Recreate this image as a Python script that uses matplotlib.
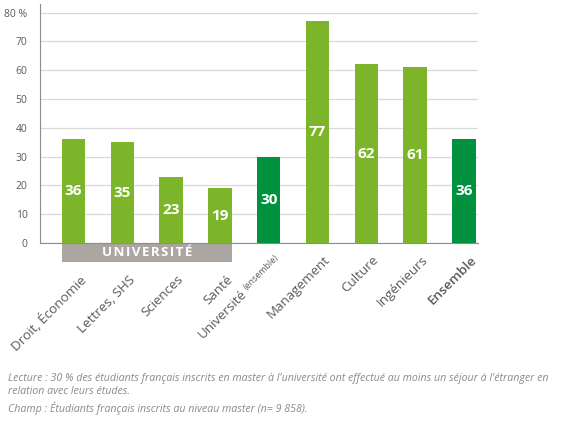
import numpy as np
import matplotlib
matplotlib.use("Agg")
import matplotlib.pyplot as plt
from matplotlib.patches import Rectangle

plt.rcParams['font.family'] = ['Open Sans', 'DejaVu Sans']

# données
categories = ["Droit, Économie", "Lettres, SHS", "Sciences", "Santé",
              "Université", "Management", "Culture", "Ingénieurs", "Ensemble"]
values = [36, 35, 23, 19, 30, 77, 62, 61, 36]
is_total = [False, False, False, False, True, False, False, False, True]
yticks = [0, 10, 20, 30, 40, 50, 60, 70, 80]
ytick_labels = ["0", "10", "20", "30", "40", "50", "60", "70", "80 %"]
n_univ = 4  # les 4 premières filières sont à l'université

light_green = "#7db52a"
dark_green = "#00923f"
grey_text = "#5a5a5a"

W, H = 561, 422
fig = plt.figure(figsize=(W / 100, H / 100), dpi=100)
ax = fig.add_axes([40 / W, 1 - 243 / H, 438 / W, 239 / H])

x = np.arange(len(categories))
colors = [dark_green if t else light_green for t in is_total]
ax.bar(x, values, width=0.48, color=colors, zorder=3)

# valeurs dans les barres
for xi, v in zip(x, values):
    ax.text(xi, v / 2, str(v), ha="center", va="center", color="white",
            fontsize=11, fontweight="bold", zorder=4)

ax.set_xlim(-0.686, 8.29)
ax.set_ylim(0, 83)
ax.set_yticks(yticks)
ax.set_yticklabels(ytick_labels)
ax.tick_params(axis="y", length=0, pad=9, labelsize=7.5, labelcolor=grey_text)
ax.set_xticks([])
ax.grid(axis="y", color="#d9d9d9", linewidth=0.9, zorder=0)
for s in ["top", "right"]:
    ax.spines[s].set_visible(False)
ax.spines["left"].set_color("#8c8c8c")
ax.spines["bottom"].set_color("#8c8c8c")

# bandeau UNIVERSITÉ
trans = ax.get_xaxis_transform()
box = Rectangle((-0.24, -0.08), n_univ - 1 + 0.48, 0.08, transform=trans,
                facecolor="#aba6a2", edgecolor="none", clip_on=False)
ax.add_patch(box)
ax.text((n_univ - 1) / 2, -0.04, "\u200a".join("UNIVERSITÉ"), transform=trans,
        ha="center", va="center", color="white", fontsize=9.6, fontweight="bold")

# étiquettes des catégories
fig.canvas.draw()
renderer = fig.canvas.get_renderer()
lab_size = 9.6
for i, cat in enumerate(categories):
    dy = -30 if i < n_univ else -10
    if cat == "Université":
        small = ax.annotate("(ensemble)", xy=(i, 0), xytext=(6, dy),
                            textcoords="offset pixels", rotation=45,
                            rotation_mode="anchor", ha="right", va="top",
                            fontsize=6.3, color=grey_text)
        tmp = fig.text(0, 0, "(ensemble)", fontsize=6.3)
        w = tmp.get_window_extent(renderer).width + 3
        tmp.remove()
        off = w / np.sqrt(2)
        ax.annotate(cat, xy=(i, 0), xytext=(6 - off, dy - off),
                    textcoords="offset pixels", rotation=45,
                    rotation_mode="anchor", ha="right", va="top",
                    fontsize=lab_size, color=grey_text)
    else:
        weight = 600 if cat == "Ensemble" else "normal"
        ax.annotate(cat, xy=(i, 0), xytext=(6, dy),
                    textcoords="offset pixels", rotation=45,
                    rotation_mode="anchor", ha="right", va="top",
                    fontsize=lab_size, color=grey_text, fontweight=weight)

# notes
note_color = "#8a8a8a"
note_size = 7.7
fig.text(8 / W, 1 - 379 / H,
         "Lecture : 30 % des étudiants français inscrits en master à l'université "
         "ont effectué au moins un séjour à l'étranger en",
         fontsize=note_size, style="italic", color=note_color, va="center")
fig.text(8 / W, 1 - 392 / H, "relation avec leurs études.",
         fontsize=note_size, style="italic", color=note_color, va="center")
fig.text(8 / W, 1 - 408 / H,
         "Champ : Étudiants français inscrits au niveau master (n= 9 858).",
         fontsize=note_size, style="italic", color=note_color, va="center")

fig.savefig("out.png", dpi=100)
